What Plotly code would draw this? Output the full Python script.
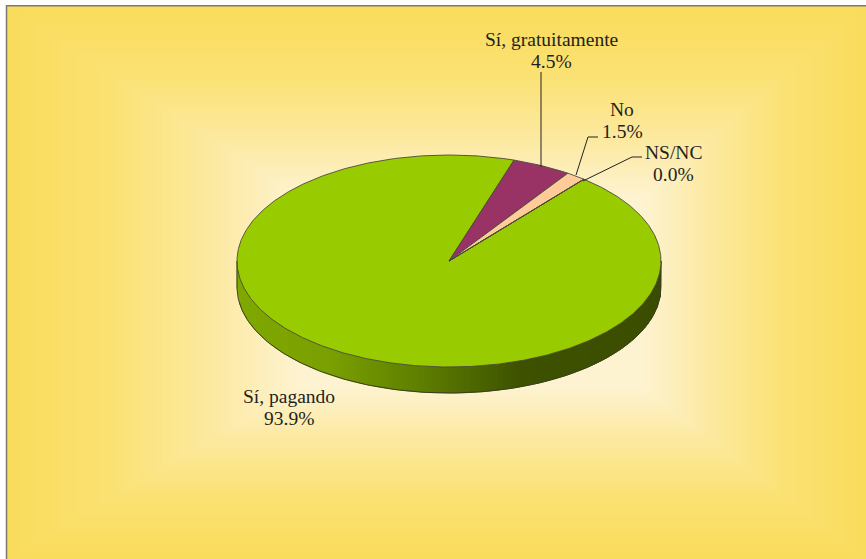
import math
import plotly.graph_objects as go

categories = ["Sí, pagando", "Sí, gratuitamente", "No", "NS/NC"]
values = [93.9, 4.5, 1.5, 0.0]
pct_labels = ["93.9%", "4.5%", "1.5%", "0.0%"]
top_colors = ["#99CC00", "#993366", "#FFCC99", "#FFFF99"]

W, H = 866, 559
CX, CY, RX, RY, DEPTH = 449, 261, 212, 106, 26
START = 39.5
FONT = "Liberation Serif"

def hex2rgb(h):
    return tuple(int(h[i:i + 2], 16) for i in (1, 3, 5))

def mix(a, b, t):
    a, b = hex2rgb(a), hex2rgb(b)
    return "#%02X%02X%02X" % tuple(round(a[i] + (b[i] - a[i]) * t) for i in range(3))

# background: nested rectangles forming a rectangular gradient
shapes = [dict(type="rect", layer="below", x0=0, x1=W, y0=0, y1=H, fillcolor="white", line_width=0)]
N = 60
bg_stops = [(0.0, "#F9DC5C"), (0.35, "#FBE172"), (0.7, "#FCE9A0"), (1.0, "#FEF3D0")]

def bg_color(t):
    for (t0, c0), (t1, c1) in zip(bg_stops, bg_stops[1:]):
        if t <= t1:
            return mix(c0, c1, (t - t0) / (t1 - t0))
    return bg_stops[-1][1]

for i in range(N + 1):
    t = i / N
    shapes.append(dict(type="rect", layer="below",
                       x0=6 + t * 290, x1=W - t * 220, y0=5 + t * 190, y1=H - t * 170,
                       fillcolor=bg_color(t), line_width=0))
shapes.append(dict(type="line", layer="below", x0=6.5, x1=6.5, y0=5, y1=H, line=dict(color="#7A7A72", width=1.5)))
shapes.append(dict(type="line", layer="below", x0=6, x1=W, y0=5.8, y1=5.8, line=dict(color="#7A7A72", width=1.5)))

fig = go.Figure()

def pt(deg, dy=0.0):
    a = math.radians(deg)
    return CX + RX * math.sin(a), CY - RY * math.cos(a) + dy

# side wall: vertical strips with horizontal shading
wall_stops = [(237, "#80A800"), (330, "#7AA000"), (420, "#5E7F00"), (520, "#3E5200"), (661, "#3B4D00")]

def wall_color(x):
    for (x0, c0), (x1, c1) in zip(wall_stops, wall_stops[1:]):
        if x <= x1:
            return mix(c0, c1, (x - x0) / (x1 - x0))
    return wall_stops[-1][1]

STEP = 3
x = CX - RX
while x < CX + RX:
    x2 = min(x + STEP, CX + RX)
    sx, sy = [], []
    for xx in (x, x2):
        u = max(-1, min(1, (xx - CX) / RX))
        sx.append(xx)
        sy.append(CY + RY * math.sqrt(1 - u * u))
    col = wall_color((x + x2) / 2)
    fig.add_trace(go.Scatter(x=[sx[0], sx[1], sx[1], sx[0], sx[0]],
                             y=[sy[0], sy[1], sy[1] + DEPTH, sy[0] + DEPTH, sy[0]],
                             mode="lines", fill="toself", fillcolor=col,
                             line=dict(color=col, width=0.8), hoverinfo="skip", showlegend=False))
    x = x2

# wall outline
deg = [90 + i for i in range(181)]
ox = [pt(d, DEPTH)[0] for d in deg]
oy = [pt(d, DEPTH)[1] for d in deg]
ox = [CX + RX] + ox + [CX - RX]
oy = [CY] + oy + [CY]
fig.add_trace(go.Scatter(x=ox, y=oy, mode="lines", line=dict(color="#3A3F20", width=1),
                         hoverinfo="skip", showlegend=False))

# top surface slices, clockwise from START, drawn from the values
total = sum(values)
angle = START
for cat, val, col in zip(categories, values, top_colors):
    sweep = val / total * 360
    steps = max(2, int(sweep * 2))
    pts = [pt(angle + sweep * i / steps) for i in range(steps + 1)]
    xs = [CX] + [p[0] for p in pts] + [CX]
    ys = [CY] + [p[1] for p in pts] + [CY]
    fig.add_trace(go.Scatter(x=xs, y=ys, mode="lines", fill="toself", fillcolor=col,
                             line=dict(color="#4A4A38", width=0.9), name=cat,
                             hoverinfo="name", showlegend=False))
    angle += sweep

# leader lines
leaders = [
    ([541, 541], [72, 167]),
    ([576, 588, 598], [175, 137, 137]),
    ([583, 632, 642], [181, 157, 157]),
]
for lx, ly in leaders:
    fig.add_trace(go.Scatter(x=lx, y=ly, mode="lines", line=dict(color="#222222", width=1),
                             hoverinfo="skip", showlegend=False))

# labels
label_pos = {"Sí, pagando": (289, 396, 418), "Sí, gratuitamente": (551, 39, 61),
             "No": (622, 109, 131), "NS/NC": (673, 152, 174)}
for cat, pct in zip(categories, pct_labels):
    lx, y1, y2 = label_pos[cat]
    for txt, yy in ((cat, y1), (pct, y2)):
        fig.add_annotation(x=lx, y=yy, text=txt, showarrow=False, xanchor="center", yanchor="middle",
                           font=dict(family=FONT, size=19.5, color="#231F20"))

fig.update_layout(
    width=W, height=H, margin=dict(l=0, r=0, t=0, b=0), autosize=False,
    paper_bgcolor="white", plot_bgcolor="rgba(0,0,0,0)", showlegend=False, shapes=shapes,
    xaxis=dict(range=[0, W], visible=False, fixedrange=True),
    yaxis=dict(range=[H, 0], visible=False, fixedrange=True),
)
fig.write_html("out.html", config={"displayModeBar": False},
               post_script="document.body.style.margin='0';document.documentElement.style.overflow='hidden';")
